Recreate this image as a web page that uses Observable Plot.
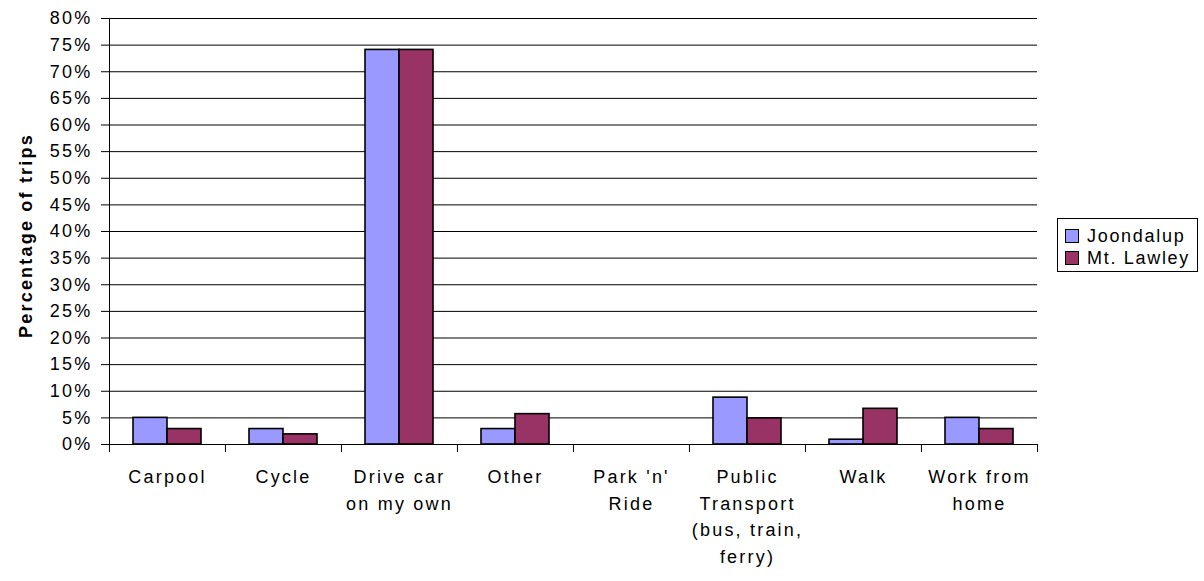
<!DOCTYPE html>
<html><head><meta charset="utf-8">
<script src="https://cdn.jsdelivr.net/npm/d3@7"></script>
<script src="https://cdn.jsdelivr.net/npm/@observablehq/plot@0.6"></script>
<style>
body{margin:0;background:#fff;font-family:"Liberation Sans",Arial,sans-serif;}
#wrap{position:relative;width:1204px;height:581px;}
.legend{position:absolute;left:1057px;top:218px;width:141px;height:54px;border:1px solid #000;background:#fff;box-sizing:border-box;font-size:18px;letter-spacing:1.7px;color:#000;}
.legend .row{position:absolute;left:7px;height:22px;display:flex;align-items:center;white-space:nowrap;}
.legend .sw{width:12px;height:12px;border:1px solid #000;margin-right:8px;}
</style></head>
<body><div id="wrap"></div>
<script>
const categories = ["Carpool","Cycle","Drive car\non my own","Other","Park 'n'\nRide","Public\nTransport\n(bus, train,\nferry)","Walk","Work from\nhome"];
const series = ["Joondalup","Mt. Lawley"];
const joondalup = [5.0, 2.9, 74.1, 2.9, 0, 8.8, 0.9, 5.0];
const mtLawley  = [2.9, 1.9, 74.1, 5.7, 0, 4.9, 6.7, 2.9];
const yTicks = [0,5,10,15,20,25,30,35,40,45,50,55,60,65,70,75,80];
const colors = ["#9999FF","#993366"];
const yLabel = "Percentage of trips";

const data = [];
categories.forEach((c,i)=>{
  data.push({category:c, series:series[0], value:joondalup[i]});
  data.push({category:c, series:series[1], value:mtLawley[i]});
});

const W=1204,H=581,ml=108,mr=167,mt=18,mb=137;
const step=(W-ml-mr)/categories.length;

const chart = Plot.plot({
  width:W,height:H,marginLeft:ml,marginRight:mr,marginTop:mt,marginBottom:mb,
  style:{fontFamily:"'Liberation Sans',Arial,sans-serif",fontSize:"18px",color:"#000",background:"#fff",letterSpacing:"2.2px",overflow:"visible"},
  fx:{domain:categories,padding:0,axis:null},
  x:{domain:series,paddingInner:0,paddingOuter:0.68,axis:null},
  y:{domain:[0,80],axis:null},
  color:{domain:series,range:colors},
  marks:[
    Plot.gridY(yTicks,{stroke:"#000",strokeOpacity:1,strokeWidth:1}),
    Plot.barY(data,{fx:"category",x:"series",y:"value",fill:"series",stroke:"#000",strokeWidth:1.6}),
    Plot.frame({anchor:"left",facetAnchor:"left",stroke:"#000"}),
    Plot.axisY(yTicks,{tickSize:8,tickPadding:9,tickFormat:d=>d+"%",label:null,stroke:"#000",fill:"#000"}),
    Plot.text([yLabel],{frameAnchor:"left",textAnchor:"middle",rotate:-90,dx:-83,dy:4,fontWeight:"bold",letterSpacing:"1.8px",facetAnchor:"left",fill:"#000"}),
    Plot.axisFx({anchor:"bottom",tickSize:0,tickPadding:20,lineHeight:1.47,label:null,fill:"#000"}),
    Plot.axisFx({anchor:"bottom",tickSize:8,tickFormat:()=>"",dx:-step/2,label:null,stroke:"#000"}),
    Plot.axisFx({anchor:"bottom",ticks:[categories[categories.length-1]],tickSize:8,tickFormat:()=>"",dx:step/2,label:null,stroke:"#000"})
  ]
});
const wrap=document.getElementById("wrap");
wrap.appendChild(chart);
const lg=document.createElement("div");lg.className="legend";
series.forEach((s,i)=>{
  const r=document.createElement("div");r.className="row";r.style.top=(6+i*22)+"px";
  const sw=document.createElement("div");sw.className="sw";sw.style.background=colors[i];
  r.appendChild(sw);r.appendChild(document.createTextNode(s));lg.appendChild(r);
});
wrap.appendChild(lg);
</script></body></html>
